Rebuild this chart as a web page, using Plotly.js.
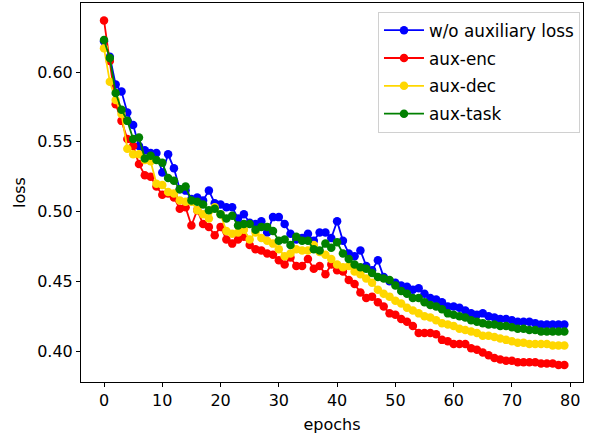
<!DOCTYPE html>
<html><head><meta charset="utf-8">
<script src="https://cdn.plot.ly/plotly-3.0.1.min.js"></script>
<style>html,body{margin:0;padding:0;background:#fff}#c{width:589px;height:435px}</style>
</head><body><div id="c"></div>
<script>
const epochs = Array.from({length: 80}, (_, i) => i);
const noAux = [0.622,0.611,0.591,0.586,0.571,0.562,0.547,0.544,0.542,0.542,0.528,0.541,0.531,0.516,0.515,0.509,0.510,0.508,0.515,0.506,
0.505,0.503,0.503,0.495,0.498,0.492,0.491,0.493,0.485,0.496,0.496,0.491,0.484,0.480,0.481,0.484,0.479,0.485,0.485,0.481,
0.493,0.479,0.470,0.468,0.472,0.461,0.458,0.465,0.453,0.450,0.449,0.447,0.446,0.444,0.445,0.441,0.438,0.437,0.435,0.432,
0.432,0.431,0.429,0.427,0.426,0.427,0.425,0.424,0.423,0.423,0.422,0.421,0.421,0.421,0.420,0.419,0.419,0.419,0.419,0.419];
const auxEnc = [0.637,0.608,0.577,0.565,0.552,0.547,0.534,0.526,0.525,0.518,0.512,0.513,0.510,0.502,0.503,0.490,0.501,0.491,0.489,0.483,
0.489,0.480,0.477,0.480,0.482,0.476,0.473,0.472,0.470,0.469,0.465,0.462,0.467,0.461,0.461,0.466,0.459,0.461,0.455,0.462,
0.458,0.457,0.451,0.448,0.442,0.438,0.439,0.435,0.432,0.427,0.426,0.423,0.421,0.418,0.413,0.413,0.413,0.412,0.408,0.407,
0.405,0.405,0.405,0.402,0.401,0.399,0.397,0.395,0.394,0.393,0.393,0.392,0.392,0.392,0.392,0.391,0.391,0.391,0.390,0.390];
const auxDec = [0.617,0.593,0.580,0.570,0.545,0.541,0.541,0.537,0.536,0.520,0.519,0.514,0.513,0.508,0.507,0.507,0.501,0.498,0.495,0.503,
0.498,0.486,0.484,0.485,0.487,0.480,0.485,0.481,0.479,0.477,0.473,0.468,0.470,0.473,0.472,0.472,0.476,0.471,0.469,0.466,
0.462,0.460,0.461,0.457,0.455,0.452,0.449,0.444,0.441,0.439,0.436,0.434,0.431,0.429,0.427,0.425,0.424,0.422,0.420,0.419,
0.418,0.416,0.415,0.414,0.413,0.411,0.411,0.410,0.409,0.408,0.407,0.406,0.406,0.405,0.405,0.405,0.405,0.404,0.404,0.404];
const auxTask = [0.623,0.610,0.585,0.573,0.565,0.552,0.553,0.538,0.540,0.537,0.535,0.524,0.522,0.516,0.518,0.508,0.507,0.505,0.501,0.502,
0.498,0.495,0.497,0.490,0.491,0.491,0.487,0.489,0.489,0.486,0.479,0.480,0.476,0.482,0.479,0.479,0.473,0.472,0.477,0.474,
0.478,0.470,0.466,0.462,0.460,0.459,0.456,0.453,0.452,0.451,0.447,0.443,0.441,0.438,0.438,0.435,0.433,0.432,0.430,0.427,
0.426,0.425,0.424,0.422,0.421,0.420,0.419,0.419,0.418,0.418,0.417,0.416,0.416,0.415,0.415,0.414,0.414,0.414,0.414,0.414];
const names = ['w/o auxiliary loss','aux-enc','aux-dec','aux-task'];
const colors = ['#0000ff','#ff0000','#ffd700','#008000'];
const series = [noAux, auxEnc, auxDec, auxTask];
const xTicks = [0,10,20,30,40,50,60,70,80];
const yTicks = [0.40,0.45,0.50,0.55,0.60];

const traces = series.map((s, i) => ({
  x: epochs, y: s, name: names[i], type: 'scatter', mode: 'lines+markers',
  legendgroup: 'g' + i,
  line: {color: colors[i], width: 1.8},
  marker: {color: colors[i], size: 8.5}
}));
const layout = {
  width: 589, height: 435,
  margin: {l: 81, r: 6, t: 3, b: 53},
  paper_bgcolor: '#fff', plot_bgcolor: '#fff',
  font: {family: 'DejaVu Sans', size: 16, color: '#000'},
  showlegend: true,
  legend: {x: 0.994, y: 0.977, xanchor: 'right', yanchor: 'top',
    bgcolor: '#fff', bordercolor: '#d0d0d0', borderwidth: 1,
    font: {family: 'DejaVu Sans', size: 16.8, color: '#000'},
    itemwidth: 40, tracegroupgap: 3},
  xaxis: {range: [-3.95, 82.2], tickvals: xTicks, ticktext: xTicks.map(String),
    showgrid: false, zeroline: false, showline: true, mirror: true, linecolor: '#000', linewidth: 1,
    ticks: 'outside', ticklen: 4, tickcolor: '#000', tickfont: {size: 16},
    title: {text: 'epochs', font: {size: 16}, standoff: 9}},
  yaxis: {range: [0.3778, 0.6495], tickvals: yTicks, ticktext: yTicks.map(v => v.toFixed(2)),
    showgrid: false, zeroline: false, showline: true, mirror: true, linecolor: '#000', linewidth: 1,
    ticks: 'outside', ticklen: 4, tickcolor: '#000', tickfont: {size: 16},
    title: {text: 'loss', font: {size: 16}, standoff: 7}}
};
Plotly.newPlot('c', traces, layout, {displayModeBar: false, staticPlot: true});
</script></body></html>
